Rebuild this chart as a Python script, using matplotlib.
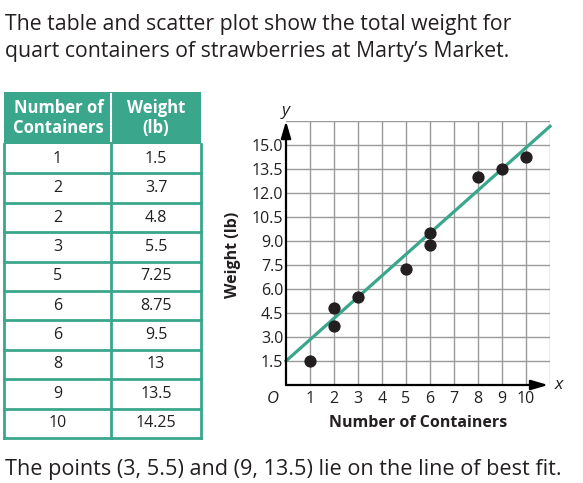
"""
Tabla y diagrama de dispersión: peso de cajas de fresas (Marty's Market).
"""

import numpy as np
import matplotlib.pyplot as plt
from matplotlib.patches import Rectangle

# =============================================================================
# DATOS
# =============================================================================
contenedores = [1, 2, 2, 3, 5, 6, 6, 8, 9, 10]
pesos = [1.5, 3.7, 4.8, 5.5, 7.25, 8.75, 9.5, 13, 13.5, 14.25]
etiquetas_peso = ["1.5", "3.7", "4.8", "5.5", "7.25", "8.75", "9.5", "13", "13.5", "14.25"]

# recta de mejor ajuste por (3, 5.5) y (9, 13.5)
p1 = (3, 5.5)
p2 = (9, 13.5)

x_ticks = [1, 2, 3, 4, 5, 6, 7, 8, 9, 10]
y_ticks = [1.5, 3.0, 4.5, 6.0, 7.5, 9.0, 10.5, 12.0, 13.5, 15.0]

titulo = ["The table and scatter plot show the total weight for",
          "quart containers of strawberries at Marty\u2019s Market."]
pie = "The points (3, 5.5) and (9, 13.5) lie on the line of best fit."

# =============================================================================
# ESTILO
# =============================================================================
TEAL = "#3aa68b"
NEGRO = "#231f20"
GRIS = "#9a9a9a"
W, H = 583, 483
plt.rcParams['font.family'] = ['Open Sans', 'DejaVu Sans']

fig = plt.figure(figsize=(W / 100, H / 100), dpi=100)

# capa de fondo en coordenadas de píxel
bg = fig.add_axes([0, 0, 1, 1])
bg.set_xlim(0, W)
bg.set_ylim(H, 0)
bg.axis('off')

for i, linea in enumerate(titulo):
    bg.text(5, 30 + 27 * i, linea, fontsize=15.3, color=NEGRO, va='baseline', ha='left')
bg.text(5, 475, pie, fontsize=15.6, color=NEGRO, va='baseline', ha='left')

# -----------------------------------------------------------------------------
# TABLA
# -----------------------------------------------------------------------------
x0, x1, xm = 4, 201, 111
y_top, y_head = 92, 144
alto_fila = (438 - y_head) / len(pesos)

bg.add_patch(Rectangle((x0, y_top), x1 - x0, y_head - y_top, facecolor=TEAL, edgecolor='none'))
bg.plot([xm, xm], [y_top + 2, y_head - 3], color='white', lw=1.5)
bg.text((x0 + xm) / 2 + 1, (y_top + y_head) / 2, "Number of\nContainers", color='white',
        fontsize=12, fontweight='bold', ha='center', va='center', linespacing=1.1)
bg.text((xm + x1) / 2, (y_top + y_head) / 2, "Weight\n(lb)", color='white',
        fontsize=12, fontweight='bold', ha='center', va='center', linespacing=1.1)

for i, (n, w) in enumerate(zip(contenedores, etiquetas_peso)):
    yc = y_head + alto_fila * (i + 0.5)
    bg.text((x0 + xm) / 2, yc, str(n), fontsize=11.5, color=NEGRO, ha='center', va='center')
    bg.text((xm + x1) / 2, yc, w, fontsize=11.5, color=NEGRO, ha='center', va='center')
    yb = y_head + alto_fila * (i + 1)
    bg.plot([x0, x1], [yb, yb], color=TEAL, lw=2)

bg.plot([x0, x0], [y_head, 438], color=TEAL, lw=2)
bg.plot([x1, x1], [y_head, 438], color=TEAL, lw=2)
bg.plot([xm, xm], [y_head, 438], color=TEAL, lw=2)

# -----------------------------------------------------------------------------
# DIAGRAMA DE DISPERSIÓN
# -----------------------------------------------------------------------------
ax = fig.add_axes([286 / W, 1 - 385 / H, 264 / W, 264 / H])
ax.set_xlim(0, 11)
ax.set_ylim(0, 16.5)

for gx in range(1, 12):
    ax.axvline(gx, color=GRIS, lw=1, zorder=1)
for gy in np.arange(1.5, 16.6, 1.5):
    ax.axhline(gy, color=GRIS, lw=1, zorder=1)

pendiente = (p2[1] - p1[1]) / (p2[0] - p1[0])
ordenada = p1[1] - pendiente * p1[0]
xs = np.array([0, 11])
ax.plot(xs, ordenada + pendiente * xs, color=TEAL, lw=2.3, zorder=3, clip_on=False)
ax.scatter(contenedores, pesos, s=78, color=NEGRO, zorder=4, linewidths=0)

for lado in ['top', 'right', 'left', 'bottom']:
    ax.spines[lado].set_visible(False)

flecha = dict(arrowstyle='-|>,head_length=0.85,head_width=0.25', color='black', lw=1.6,
              mutation_scale=12, shrinkA=0, shrinkB=0)
ax.annotate('', xy=(0, 16.5), xytext=(0, 0), arrowprops=flecha, annotation_clip=False, zorder=5)
ax.annotate('', xy=(10.92, 0), xytext=(0, 0), arrowprops=flecha, annotation_clip=False, zorder=5)

ax.set_xticks(x_ticks)
ax.set_xticklabels([str(v) for v in x_ticks])
ax.set_yticks(y_ticks)
ax.set_yticklabels([f"{v:.1f}" for v in y_ticks])
ax.tick_params(length=0, labelsize=11.5, colors=NEGRO)
ax.tick_params(axis='x', pad=4)
ax.tick_params(axis='y', pad=2)

ax.set_xlabel("Number of Containers", fontsize=11.5, fontweight='bold', color=NEGRO, labelpad=6)
bg.text(233, 255, "Weight (lb)", fontsize=11.5, fontweight='bold', color=NEGRO,
        rotation=90, ha='center', va='center')

bg.text(273, 399, "O", fontsize=12, style='italic', color=NEGRO, ha='center', va='center')
bg.text(559, 385, "x", fontsize=12.5, style='italic', color=NEGRO, ha='center', va='center')
bg.text(286, 111, "y", fontsize=12.5, style='italic', color=NEGRO, ha='center', va='center')

plt.savefig("out.png", dpi=100)
